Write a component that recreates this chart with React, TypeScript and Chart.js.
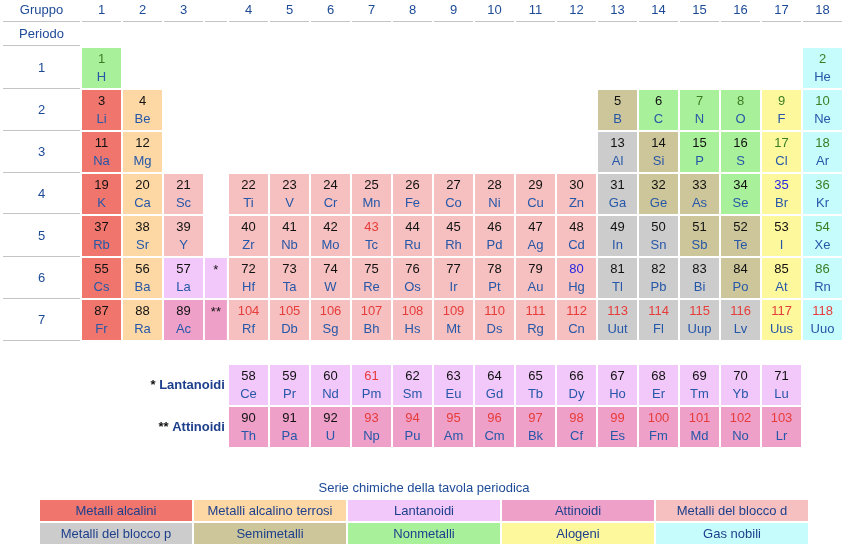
import React, { useEffect, useRef } from "react";
import { Chart, registerables } from "chart.js";
Chart.register(...registerables);

// ---------- DATA ----------
const SYMBOLS = ["H","He","Li","Be","B","C","N","O","F","Ne","Na","Mg","Al","Si","P","S","Cl","Ar","K","Ca","Sc","Ti","V","Cr","Mn","Fe","Co","Ni","Cu","Zn","Ga","Ge","As","Se","Br","Kr","Rb","Sr","Y","Zr","Nb","Mo","Tc","Ru","Rh","Pd","Ag","Cd","In","Sn","Sb","Te","I","Xe","Cs","Ba","La","Ce","Pr","Nd","Pm","Sm","Eu","Gd","Tb","Dy","Ho","Er","Tm","Yb","Lu","Hf","Ta","W","Re","Os","Ir","Pt","Au","Hg","Tl","Pb","Bi","Po","At","Rn","Fr","Ra","Ac","Th","Pa","U","Np","Pu","Am","Cm","Bk","Cf","Es","Fm","Md","No","Lr","Rf","Db","Sg","Bh","Hs","Mt","Ds","Rg","Cn","Uut","Fl","Uup","Lv","Uus","Uuo"];

const GROUPS = [
  1, 18,
  1, 2, 13, 14, 15, 16, 17, 18,
  1, 2, 13, 14, 15, 16, 17, 18,
  1, 2, 3, 4, 5, 6, 7, 8, 9, 10, 11, 12, 13, 14, 15, 16, 17, 18,
  1, 2, 3, 4, 5, 6, 7, 8, 9, 10, 11, 12, 13, 14, 15, 16, 17, 18,
  1, 2, 3, 4, 5, 6, 7, 8, 9, 10, 11, 12, 13, 14, 15, 16, 17, 4, 5, 6, 7, 8, 9, 10, 11, 12, 13, 14, 15, 16, 17, 18,
  1, 2, 3, 4, 5, 6, 7, 8, 9, 10, 11, 12, 13, 14, 15, 16, 17, 4, 5, 6, 7, 8, 9, 10, 11, 12, 13, 14, 15, 16, 17, 18,
];

// rows 1-7 = periods, 8 = lantanoidi, 9 = attinoidi
const ROWS = [
  1, 1,
  2, 2, 2, 2, 2, 2, 2, 2,
  3, 3, 3, 3, 3, 3, 3, 3,
  4, 4, 4, 4, 4, 4, 4, 4, 4, 4, 4, 4, 4, 4, 4, 4, 4, 4,
  5, 5, 5, 5, 5, 5, 5, 5, 5, 5, 5, 5, 5, 5, 5, 5, 5, 5,
  6, 6, 6, 8, 8, 8, 8, 8, 8, 8, 8, 8, 8, 8, 8, 8, 8, 6, 6, 6, 6, 6, 6, 6, 6, 6, 6, 6, 6, 6, 6, 6,
  7, 7, 7, 9, 9, 9, 9, 9, 9, 9, 9, 9, 9, 9, 9, 9, 9, 7, 7, 7, 7, 7, 7, 7, 7, 7, 7, 7, 7, 7, 7, 7,
];

const CATEGORIES = [
  "nm", "ng",
  "am", "ae", "sm", "nm", "nm", "nm", "ha", "ng",
  "am", "ae", "p", "sm", "nm", "nm", "ha", "ng",
  "am", "ae", "d", "d", "d", "d", "d", "d", "d", "d", "d", "d", "p", "sm", "sm", "nm", "ha", "ng",
  "am", "ae", "d", "d", "d", "d", "d", "d", "d", "d", "d", "d", "p", "p", "sm", "sm", "ha", "ng",
  "am", "ae", "la", "la", "la", "la", "la", "la", "la", "la", "la", "la", "la", "la", "la", "la", "la",
  "d", "d", "d", "d", "d", "d", "d", "d", "d", "p", "p", "p", "sm", "ha", "ng",
  "am", "ae", "ac", "ac", "ac", "ac", "ac", "ac", "ac", "ac", "ac", "ac", "ac", "ac", "ac", "ac", "ac",
  "d", "d", "d", "d", "d", "d", "d", "d", "d", "p", "p", "p", "p", "ha", "ng",
];

const GAS_NUMBERS = [1, 2, 7, 8, 9, 10, 17, 18, 36, 54, 86];
const LIQUID_NUMBERS = [35, 80];
const SYNTHETIC_NUMBERS = [43, 61, 93, 94, 95, 96, 97, 98, 99, 100, 101, 102, 103, 104, 105, 106, 107, 108, 109, 110, 111, 112, 113, 114, 115, 116, 117, 118];

const GROUP_LABELS = ["1","2","3","4","5","6","7","8","9","10","11","12","13","14","15","16","17","18"];
const PERIOD_LABELS = ["1","2","3","4","5","6","7"];

const STAR_ROWS = [6, 7];
const STAR_MARKS = ["*", "**"];
const STAR_CATS = ["la", "ac"];
const SERIES_LABELS = ["Lantanoidi", "Attinoidi"];

const LEGEND_CODES = ["am", "ae", "la", "ac", "d", "p", "sm", "nm", "ha", "ng"];
const LEGEND_NAMES = ["Metalli alcalini", "Metalli alcalino terrosi", "Lantanoidi", "Attinoidi", "Metalli del blocco d", "Metalli del blocco p", "Semimetalli", "Nonmetalli", "Alogeni", "Gas nobili"];
const LEGEND_TITLE = "Serie chimiche della tavola periodica";

// ---------- STYLE / LAYOUT ----------
const CAT_COLORS: Record<string, string> = {
  am: "#f0766d",
  ae: "#fdd8a4",
  la: "#f2c8fa",
  ac: "#eea0c8",
  d: "#f5c0bf",
  p: "#cccccc",
  sm: "#ccc69a",
  nm: "#a9f09a",
  ha: "#fdf89c",
  ng: "#c6fcfc",
};
const HEADER_COLOR = "#1d4a96";
const SYMBOL_COLOR = "#2657a8";
const LEGEND_TEXT = "#1d3f8c";
const LINE_COLOR = "#c4c4c4";
const FONT = '"Liberation Sans", Arial, Helvetica, sans-serif';

const PX_X = 41; // px per column unit
const PX_Y = 42; // px per row unit
const W = 848, H = 553;
const X_MIN = 1 - 101.5 / PX_X;
const X_MAX = X_MIN + W / PX_X;
const Y_MIN = 1 - 68 / PX_Y;
const Y_MAX = Y_MIN + H / PX_Y;
const D_SHIFT = 24 / PX_X;
const STAR_X = 3.79;
const LABEL_X = 1 + (41.5 - 101.5) / PX_X;
const HALF = 19.5 / PX_X;
const STAR_HALF = 11 / PX_X;
const HEADER_ROW = -0.36;
const PERIODO_ROW = 0.19;
const TITLE_ROW = 11.0;

const colX = (g: number) => g + (g >= 4 ? D_SHIFT : 0);
const rowY = (r: number) => (r <= 7 ? r : r + 0.55);

function numberColor(n: number) {
  if (SYNTHETIC_NUMBERS.includes(n)) return "#e63c3a";
  if (LIQUID_NUMBERS.includes(n)) return "#2626e0";
  if (GAS_NUMBERS.includes(n)) return "#3b7d24";
  return "#111111";
}

const textPlugin = {
  id: "periodicText",
  afterDatasetsDraw(chart: any) {
    const ctx: CanvasRenderingContext2D = chart.ctx;
    const xs = chart.scales.x;
    const ys = chart.scales.y;
    const px = (v: number) => xs.getPixelForValue(v);
    const py = (v: number) => ys.getPixelForValue(v);
    ctx.save();
    ctx.textAlign = "center";
    ctx.textBaseline = "middle";

    const hline = (x0: number, x1: number, y: number) => {
      const yy = Math.round(y) + 0.5;
      ctx.beginPath();
      ctx.moveTo(x0, yy);
      ctx.lineTo(x1, yy);
      ctx.stroke();
    };
    ctx.strokeStyle = LINE_COLOR;
    ctx.lineWidth = 1;

    // Header
    const hy = py(HEADER_ROW);
    const lx = px(LABEL_X);
    ctx.font = `13px ${FONT}`;
    ctx.fillStyle = HEADER_COLOR;
    ctx.fillText("Gruppo", lx, hy);
    hline(lx - 38.5, lx + 38.5, hy + 10.5);
    GROUP_LABELS.forEach((lab, i) => {
      const cx = px(colX(i + 1));
      ctx.fillText(lab, cx, hy);
      hline(cx - 19.5, cx + 19.5, hy + 10.5);
    });
    const sx = px(STAR_X);
    hline(sx - 11, sx + 11, hy + 10.5);

    // Periodo
    const pyy = py(PERIODO_ROW);
    ctx.fillText("Periodo", lx, pyy);
    hline(lx - 38.5, lx + 38.5, pyy + 11);
    PERIOD_LABELS.forEach((lab, i) => {
      const cy = py(rowY(i + 1));
      ctx.fillStyle = HEADER_COLOR;
      ctx.fillText(lab, lx, cy);
      hline(lx - 38.5, lx + 38.5, cy + 19.5);
    });

    // Element texts
    SYMBOLS.forEach((sym, i) => {
      const n = i + 1;
      const cx = px(colX(GROUPS[i]));
      const cy = py(rowY(ROWS[i]));
      ctx.font = `13px ${FONT}`;
      ctx.fillStyle = numberColor(n);
      ctx.fillText(String(n), cx, cy - 9);
      ctx.fillStyle = SYMBOL_COLOR;
      ctx.fillText(sym, cx, cy + 9.5);
    });

    // Star cells
    STAR_ROWS.forEach((r, i) => {
      const cy = py(rowY(r));
      ctx.font = `13px ${FONT}`;
      ctx.fillStyle = "#111";
      ctx.fillText(STAR_MARKS[i], sx, cy - 8);
    });

    // Series labels (lantanoidi / attinoidi)
    SERIES_LABELS.forEach((lab, i) => {
      const cy = py(rowY(8 + i));
      const right = sx + 9;
      ctx.textAlign = "right";
      ctx.font = `bold 13px ${FONT}`;
      ctx.fillStyle = LEGEND_TEXT;
      ctx.fillText(lab, right, cy);
      const w = ctx.measureText(lab).width;
      ctx.fillStyle = "#111";
      ctx.fillText(STAR_MARKS[i] + " ", right - w, cy);
      ctx.textAlign = "center";
    });

    // Legend
    const ty = py(TITLE_ROW);
    const midX = (chart.chartArea.left + chart.chartArea.right) / 2;
    ctx.font = `13px ${FONT}`;
    ctx.fillStyle = HEADER_COLOR;
    ctx.fillText(LEGEND_TITLE, midX, ty);
    const cw = 152, gap = 2, ch = 21;
    const left0 = midX - (5 * cw + 4 * gap) / 2;
    LEGEND_CODES.forEach((code, i) => {
      const col = i % 5;
      const row = Math.floor(i / 5);
      const x0 = left0 + col * (cw + gap);
      const y0 = Math.round(ty) + 12 + row * (ch + gap);
      ctx.fillStyle = CAT_COLORS[code];
      ctx.fillRect(x0, y0, cw, ch);
      ctx.fillStyle = LEGEND_TEXT;
      ctx.fillText(LEGEND_NAMES[i], x0 + cw / 2, y0 + ch / 2 + 0.5);
    });

    ctx.restore();
  },
};

export default function App() {
  const ref = useRef<HTMLCanvasElement>(null);
  useEffect(() => {
    const canvas = ref.current!;
    const cellData = SYMBOLS.map((_, i) => {
      const cx = colX(GROUPS[i]);
      return { x: [cx - HALF, cx + HALF], y: rowY(ROWS[i]) };
    });
    const cellColors = CATEGORIES.map((c) => CAT_COLORS[c]);
    const starData = STAR_ROWS.map((r) => ({ x: [STAR_X - STAR_HALF, STAR_X + STAR_HALF], y: rowY(r) }));
    const starColors = STAR_CATS.map((c) => CAT_COLORS[c]);

    const chart = new Chart(canvas, {
      type: "bar",
      data: {
        datasets: [
          {
            data: cellData as any,
            backgroundColor: cellColors,
            barThickness: 40,
            grouped: false,
            borderWidth: 0,
            inflateAmount: 0,
          } as any,
          {
            data: starData as any,
            backgroundColor: starColors,
            barThickness: 40,
            grouped: false,
            borderWidth: 0,
            inflateAmount: 0,
          } as any,
        ],
      },
      options: {
        indexAxis: "y",
        responsive: false,
        animation: false,
        events: [],
        layout: { padding: 0 },
        plugins: { legend: { display: false }, tooltip: { enabled: false } },
        scales: {
          x: { type: "linear", min: X_MIN, max: X_MAX, display: false, offset: false },
          y: { type: "linear", min: Y_MIN, max: Y_MAX, reverse: true, display: false, offset: false },
        },
      } as any,
      plugins: [textPlugin],
    });
    return () => chart.destroy();
  }, []);

  return (
    <div style={{ position: "absolute", left: 0, top: 0, width: W, height: H, background: "#fff" }}>
      <canvas ref={ref} width={W} height={H} style={{ display: "block", width: W, height: H }} />
    </div>
  );
}
